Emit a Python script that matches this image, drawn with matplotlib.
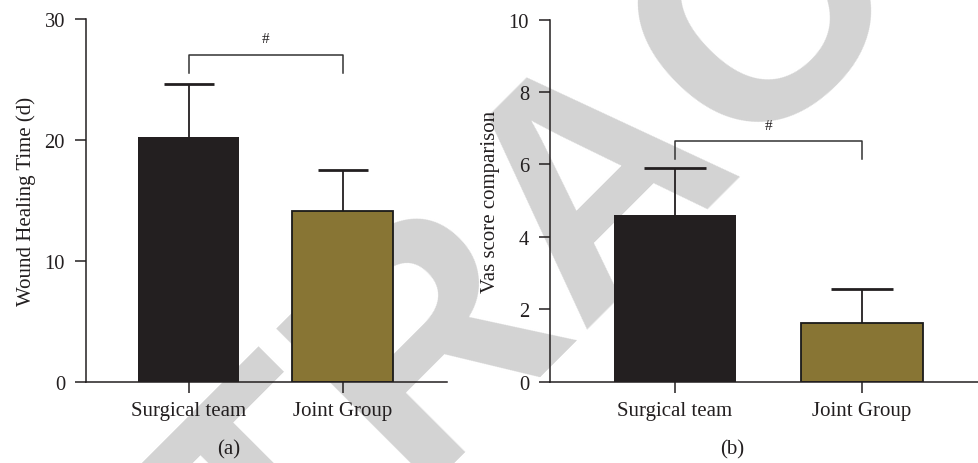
import matplotlib
matplotlib.use("Agg")
import matplotlib.pyplot as plt

# ---- data ----
groups = ["Surgical team", "Joint Group"]
healing_mean = [20.2, 14.15]
healing_sd = [4.4, 3.35]
vas_mean = [4.6, 1.61]
vas_sd = [1.31, 0.95]
healing_ticks = [0, 10, 20, 30]
vas_ticks = [0, 2, 4, 6, 8, 10]
bar_colors = ["#231f20", "#887534"]

plt.rcParams["font.family"] = ["Liberation Serif", "DejaVu Serif"]

fig = plt.figure(figsize=(9.79, 4.64), dpi=100)

# watermark
fig.text(0.6731, 0.4892, "RETRACTED", rotation=45, fontsize=232,
         family="Liberation Sans", weight="bold", color="#d3d3d3",
         ha="center", va="baseline", zorder=-5, rotation_mode="anchor")

def panel(rect, means, sds, ticks, ylim, xlim, ylabel, cap_half, bracket, sub, subx):
    ax = fig.add_axes(rect)
    ax.patch.set_alpha(0)
    x = list(range(len(groups)))
    for xi, m, s in zip(x, means, sds):
        ax.plot([xi, xi], [m, m + s], color="#231f20", lw=1.3, zorder=1,
                solid_capstyle="butt")
        ax.plot([xi - cap_half, xi + cap_half], [m + s, m + s], color="#231f20",
                lw=2.0, zorder=1, solid_capstyle="butt")
    ax.bar(x, means, width=0.655, color=bar_colors,
           edgecolor=["#231f20", "#1a1a1a"], linewidth=[0, 1.3], zorder=2)
    ax.set_ylim(*ylim)
    ax.set_xlim(*xlim)
    ax.set_yticks(ticks)
    ax.set_yticklabels([str(t) for t in ticks], fontsize=14.8, color="#231f20")
    ax.set_xticks(x)
    ax.set_xticklabels(groups, fontsize=15, color="#231f20")
    for s in ["top", "right"]:
        ax.spines[s].set_visible(False)
    for s in ["left", "bottom"]:
        ax.spines[s].set_linewidth(1.1)
        ax.spines[s].set_color("#231f20")
    ax.tick_params(axis="y", length=8, width=1.1, pad=7, color="#231f20")
    ax.tick_params(axis="x", length=7.7, width=1.1, pad=6, color="#231f20")
    ax.set_ylabel(ylabel, fontsize=15, color="#231f20", labelpad=6)
    y_top, y_leg, y_txt = bracket
    ax.plot([0, 0, 1, 1], [y_leg, y_top, y_top, y_leg], color="#333333", lw=1.1,
            clip_on=False)
    ax.text(0.5, y_txt, "#", ha="center", va="center", fontsize=11,
            color="#231f20")
    fig.text(subx, 0.030, sub, ha="center", va="center", fontsize=15,
             color="#231f20")
    return ax

panel([0.0878, 0.1752, 0.3685, 0.7817], healing_mean, healing_sd, healing_ticks,
      (0, 30), (-0.665, 1.674), "Wound Healing Time (d)", 0.162,
      (27.0, 25.5, 28.4), "(a)", 229 / 979)
panel([0.5618, 0.1752, 0.4382, 0.7802], vas_mean, vas_sd, vas_ticks,
      (0, 10), (-0.668, 1.626), "Vas score comparison", 0.167,
      (6.65, 6.15, 7.07), "(b)", 732 / 979)

fig.savefig("out.png", dpi=100)
